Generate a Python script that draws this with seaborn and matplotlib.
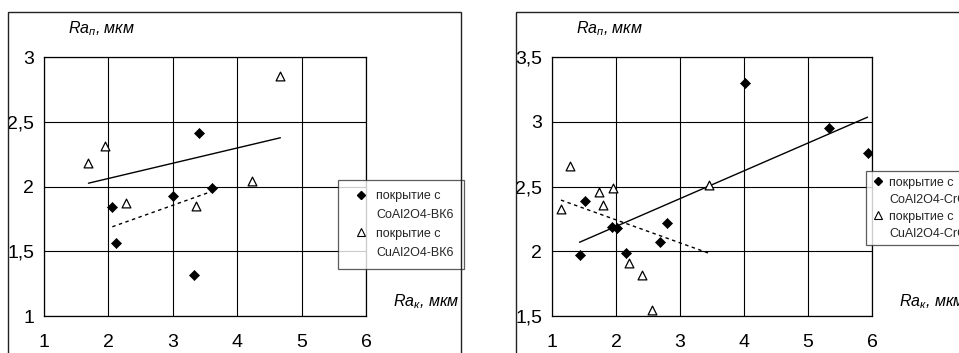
import numpy as np
import pandas as pd
import matplotlib
matplotlib.use("Agg")
import matplotlib.pyplot as plt
import seaborn as sns
from matplotlib.lines import Line2D
from matplotlib.patches import Rectangle
from matplotlib.ticker import FuncFormatter

# ---------------- data ----------------
# left chart (ВК6)
left_co_x = [2.06, 2.12, 3.01, 3.41, 3.33, 3.61]
left_co_y = [1.84, 1.56, 1.93, 2.41, 1.32, 1.99]
left_cu_x = [1.69, 1.95, 2.28, 3.36, 4.23, 4.67]
left_cu_y = [2.18, 2.31, 1.87, 1.85, 2.04, 2.85]
left_labels = ["покрытие с", "CoAl2O4-ВК6", "покрытие с", "CuAl2O4-ВК6"]

# right chart (Cr...)
right_co_x = [1.43, 1.52, 1.93, 2.01, 2.15, 2.69, 2.79, 4.01, 5.33, 5.93]
right_co_y = [1.97, 2.39, 2.19, 2.18, 1.99, 2.07, 2.22, 3.30, 2.95, 2.76]
right_cu_x = [1.14, 1.28, 1.73, 1.80, 1.95, 2.20, 2.41, 2.56, 3.45]
right_cu_y = [2.33, 2.66, 2.46, 2.36, 2.49, 1.91, 1.82, 1.55, 2.51]
right_labels = ["покрытие с", "CoAl2O4-CrO", "покрытие с", "CuAl2O4-CrO"]

x_ticks = [1, 2, 3, 4, 5, 6]
left_y_ticks = [1, 1.5, 2, 2.5, 3]
right_y_ticks = [1.5, 2, 2.5, 3, 3.5]
y_label = r"$Ra_п$, мкм"
x_label = r"$Ra_к$, мкм"

# ---------------- style ----------------
sns.set_theme(style="white")
plt.rcParams["font.family"] = ["Liberation Sans", "DejaVu Sans"]
plt.rcParams["mathtext.fontset"] = "custom"
plt.rcParams["mathtext.it"] = "Liberation Sans:italic"
plt.rcParams["mathtext.rm"] = "Liberation Sans"
plt.rcParams["mathtext.default"] = "it"

fig = plt.figure(figsize=(9.59, 3.53), dpi=100)
fig.patch.set_facecolor("white")

# outer frames of the two charts
fig.add_artist(Rectangle((0.0083, -0.2), 0.4724, 1.166, transform=fig.transFigure,
                         fill=False, ec="#222222", lw=1.0))
fig.add_artist(Rectangle((0.538, -0.2), 0.6, 1.166, transform=fig.transFigure,
                         fill=False, ec="#222222", lw=1.0))

ax_l = fig.add_axes([0.0459, 0.1048, 0.3358, 0.7337])
ax_r = fig.add_axes([0.5756, 0.1048, 0.3337, 0.7337])

comma = FuncFormatter(lambda v, p: ("%g" % v).replace(".", ","))


def panel(ax, co_x, co_y, cu_x, cu_y, yticks, labels, co_ls, cu_ls, leg_anchor,
          leg_kw):
    df_co = pd.DataFrame({"x": co_x, "y": co_y})
    df_cu = pd.DataFrame({"x": cu_x, "y": cu_y})
    ax.set_xlim(x_ticks[0], x_ticks[-1])
    ax.set_ylim(yticks[0], yticks[-1])

    sns.regplot(data=df_co, x="x", y="y", ax=ax, scatter=False, ci=None,
                truncate=True,
                line_kws=dict(color="black", lw=1.0, linestyle=co_ls))
    sns.regplot(data=df_cu, x="x", y="y", ax=ax, scatter=False, ci=None,
                truncate=True,
                line_kws=dict(color="black", lw=1.0, linestyle=cu_ls))
    sns.scatterplot(data=df_co, x="x", y="y", ax=ax, marker="D", s=26,
                    color="black", edgecolor="black", linewidth=0.5, zorder=5)
    sns.scatterplot(data=df_cu, x="x", y="y", ax=ax, marker="^", s=40,
                    facecolor="white", edgecolor="black", linewidth=0.9, zorder=5)
    ax.set_xlabel("")
    ax.set_ylabel("")
    ax.set_xlim(x_ticks[0], x_ticks[-1])
    ax.set_ylim(yticks[0], yticks[-1])
    ax.set_xticks(x_ticks)
    ax.set_yticks(yticks)
    ax.xaxis.set_major_formatter(comma)
    ax.yaxis.set_major_formatter(comma)
    ax.grid(True, color="black", lw=0.8)
    ax.set_axisbelow(True)
    for s in ax.spines.values():
        s.set_color("black")
        s.set_linewidth(0.9)
    ax.tick_params(axis="both", direction="out", length=3, width=0.8,
                   color="black", labelsize=14, labelcolor="black")
    ax.tick_params(axis="x", pad=10)
    ax.tick_params(axis="y", pad=4)

    ax.text(0.075, 1.108, y_label, transform=ax.transAxes, fontsize=11.5,
            style="italic", ha="left", va="center", color="black")
    ax.text(1.085, 0.054, x_label, transform=ax.transAxes, fontsize=11.5,
            style="italic", ha="left", va="center", color="black", clip_on=False)

    blank = Line2D([], [], ls="", marker="")
    handles = [
        Line2D([], [], marker="D", ls="", color="black", markersize=4.5),
        blank,
        Line2D([], [], marker="^", ls="", markerfacecolor="white",
               markeredgecolor="black", markersize=6, markeredgewidth=0.8),
        blank,
    ]
    leg = ax.legend(handles, labels, loc="upper left", bbox_to_anchor=leg_anchor,
                    frameon=True, fancybox=False, borderaxespad=0, **leg_kw)
    leg.get_frame().set_edgecolor("#333333")
    leg.get_frame().set_linewidth(0.9)
    leg.set_zorder(10)


panel(ax_l, left_co_x, left_co_y, left_cu_x, left_cu_y, left_y_ticks, left_labels,
      (0, (2.5, 2.5)), "-", (0.913, 0.525),
      dict(fontsize=9, handlelength=2.0, handletextpad=0.25, borderpad=0.8,
           labelspacing=0.55))
panel(ax_r, right_co_x, right_co_y, right_cu_x, right_cu_y, right_y_ticks, right_labels,
      "-", (0, (2.5, 2.5)), (0.981, 0.560),
      dict(fontsize=9, handlelength=1.0, handletextpad=0.4, borderpad=0.45,
           labelspacing=0.4))

fig.savefig("out.png", dpi=100, facecolor="white")
